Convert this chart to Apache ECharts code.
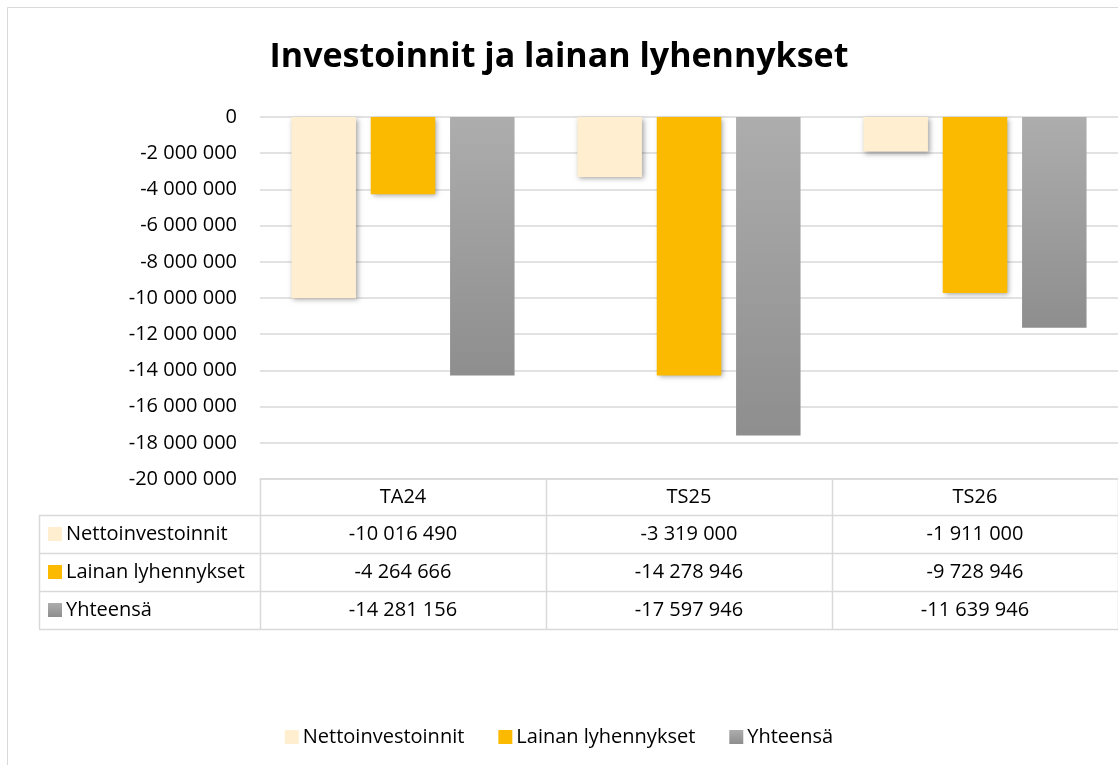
<!DOCTYPE html>
<html>
<head>
<meta charset="utf-8">
<title>Investoinnit ja lainan lyhennykset</title>
<script src="https://cdn.jsdelivr.net/npm/echarts@6/dist/echarts.min.js"></script>
<style>
html, body { margin: 0; padding: 0; background: #fff; }
#chart { width: 1118px; height: 765px; }
</style>
</head>
<body>
<div id="chart"></div>
<script>
var categories = ['TA24', 'TS25', 'TS26'];
var nettoinvestoinnit = [-10016490, -3319000, -1911000];
var lainanLyhennykset = [-4264666, -14278946, -9728946];
var yhteensa = [-14281156, -17597946, -11639946];
var seriesNames = ['Nettoinvestoinnit', 'Lainan lyhennykset', 'Yhteensä'];

var FONT = '"Open Sans", "Noto Sans", sans-serif';
var LINE = '#d9d9d9';
var FS = 20;

function fmt(v) {
    var s = String(Math.abs(Math.round(v))).replace(/\B(?=(\d{3})+(?!\d))/g, ' ');
    return (v < 0 ? '-' : '') + s;
}

var grayFill = new echarts.graphic.LinearGradient(0, 0, 0, 1, [
    { offset: 0, color: '#adadad' },
    { offset: 1, color: '#8e8e8e' }
]);
var colors = ['#ffefd0', '#fbba00', grayFill];
var seriesData = [nettoinvestoinnit, lainanLyhennykset, yhteensa];

var myChart = echarts.init(document.getElementById('chart'), null, { renderer: 'canvas' });

var barShadow = {
    shadowBlur: 5,
    shadowOffsetX: 2,
    shadowOffsetY: 2,
    shadowColor: 'rgba(0,0,0,0.35)'
};

option = {
    backgroundColor: '#fff',
    animation: false,
    textStyle: { fontFamily: FONT },
    title: {
        text: 'Investoinnit ja lainan lyhennykset',
        left: 'center',
        top: 35,
        textStyle: { fontFamily: FONT, fontSize: 34, fontWeight: 'bold', color: '#000' }
    },
    legend: {
        data: seriesNames,
        left: 'center',
        top: 722,
        itemWidth: 14,
        itemHeight: 14,
        itemGap: 34,
        icon: 'rect',
        textStyle: { fontFamily: FONT, fontSize: FS, color: '#000', padding: [0, 0, 0, -1] }
    },
    grid: {
        left: 260,
        right: -15,
        top: 117,
        bottom: 286,
        containLabel: false
    },
    xAxis: {
        type: 'category',
        data: categories,
        position: 'bottom',
        axisLine: { show: true, onZero: false, lineStyle: { color: LINE, width: 1.5 } },
        axisTick: { show: false },
        axisLabel: { fontFamily: FONT, fontSize: FS, color: '#000', margin: 8 }
    },
    yAxis: {
        type: 'value',
        min: -20000000,
        max: 0,
        interval: 2000000,
        axisLine: { show: false },
        axisTick: { show: false },
        axisLabel: {
            fontFamily: FONT,
            fontSize: FS,
            color: '#000',
            margin: 23,
            formatter: fmt
        },
        splitLine: { lineStyle: { color: LINE, width: 1.5 } }
    },
    series: seriesNames.map(function (name, i) {
        return {
            name: name,
            type: 'bar',
            data: seriesData[i],
            barCategoryGap: '22%',
            barGap: '23%',
            itemStyle: Object.assign({ color: colors[i] }, barShadow)
        };
    })
};

myChart.setOption(option);

// data table under the plot, positioned from the category axis
function drawTable() {
    var x0 = myChart.convertToPixel({ xAxisIndex: 0 }, categories[0]);
    var x1 = myChart.convertToPixel({ xAxisIndex: 0 }, categories[1]);
    var catW = x1 - x0;
    var gridLeft = x0 - catW / 2;
    var tableLeft = 39;
    var right = 1130;
    var headTop = 479;
    var rowTops = [515, 553, 591, 629];
    var els = [];

    // horizontal lines
    rowTops.forEach(function (y) {
        els.push({ type: 'line', shape: { x1: tableLeft, y1: y + 0.5, x2: right, y2: y + 0.5 }, style: { stroke: LINE, lineWidth: 1.5 } });
    });
    // vertical lines
    els.push({ type: 'line', shape: { x1: tableLeft + 0.5, y1: rowTops[0], x2: tableLeft + 0.5, y2: rowTops[3] }, style: { stroke: LINE, lineWidth: 1.5 } });
    for (var c = 0; c <= categories.length; c++) {
        var xv = Math.round(gridLeft + c * catW) + 0.5;
        els.push({ type: 'line', shape: { x1: xv, y1: headTop, x2: xv, y2: rowTops[3] }, style: { stroke: LINE, lineWidth: 1.5 } });
    }
    // rows
    seriesNames.forEach(function (name, r) {
        var cy = (rowTops[r] + rowTops[r + 1]) / 2;
        els.push({
            type: 'rect',
            shape: { x: 48, y: cy - 7, width: 14, height: 14 },
            style: { fill: colors[r] }
        });
        els.push({
            type: 'text',
            style: { x: 66, y: cy, text: name, fill: '#000', font: FS + 'px ' + FONT, textAlign: 'left', textVerticalAlign: 'middle' }
        });
        seriesData[r].forEach(function (v, k) {
            var cx = myChart.convertToPixel({ xAxisIndex: 0 }, categories[k]);
            els.push({
                type: 'text',
                style: { x: cx, y: cy, text: fmt(v), fill: '#000', font: FS + 'px ' + FONT, textAlign: 'center', textVerticalAlign: 'middle' }
            });
        });
    });
    // outer chart border
    els.push({
        type: 'rect',
        shape: { x: 7.5, y: 7.5, width: 1200, height: 900 },
        style: { fill: 'none', stroke: LINE, lineWidth: 1 },
        z: -1
    });

    myChart.setOption({ graphic: { elements: els } });
}

drawTable();

window.addEventListener('resize', function () {
    myChart.resize();
    drawTable();
});
</script>
</body>
</html>
